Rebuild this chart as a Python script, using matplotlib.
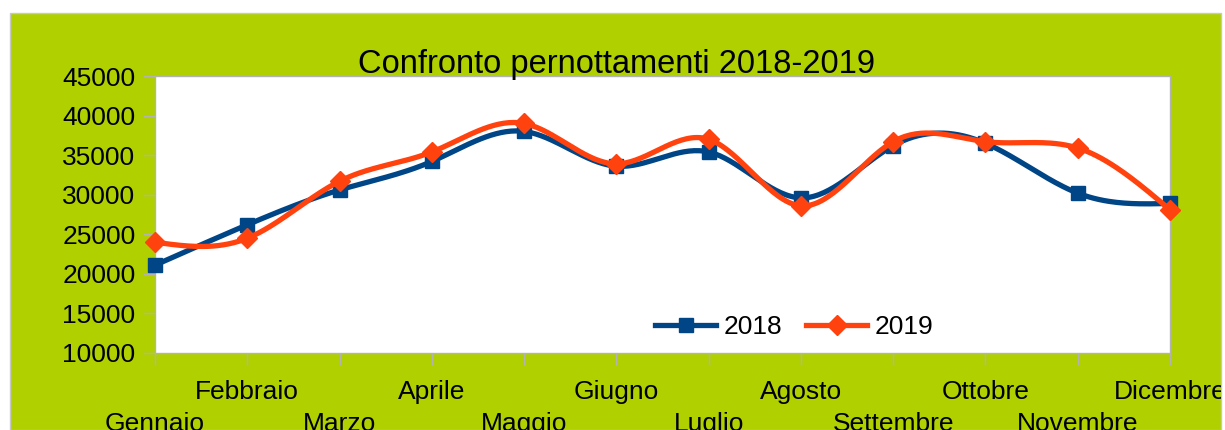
import numpy as np
import matplotlib
matplotlib.use("Agg")
import matplotlib.pyplot as plt
from matplotlib.patches import Rectangle

# dati
mesi = ["Gennaio", "Febbraio", "Marzo", "Aprile", "Maggio", "Giugno",
        "Luglio", "Agosto", "Settembre", "Ottobre", "Novembre", "Dicembre"]
pern_2018 = [21100, 26200, 30600, 34200, 38000, 33600,
             35400, 29600, 36200, 36500, 30200, 28900]
pern_2019 = [24000, 24500, 31700, 35400, 39000, 33900,
             37000, 28600, 36700, 36700, 35900, 28100]
y_ticks = [10000, 15000, 20000, 25000, 30000, 35000, 40000, 45000]

verde = "#b0d000"
blu = "#004586"
arancio = "#ff420e"
grigio = "#b3b3b3"


def spline(x, y, n=400):
    # spline cubica naturale, solo per disegnare la linea smussata
    x = np.asarray(x, float)
    y = np.asarray(y, float)
    h = np.diff(x)
    m = len(x)
    A = np.zeros((m, m))
    b = np.zeros(m)
    A[0, 0] = A[-1, -1] = 1
    for i in range(1, m - 1):
        A[i, i - 1] = h[i - 1]
        A[i, i] = 2 * (h[i - 1] + h[i])
        A[i, i + 1] = h[i]
        b[i] = 3 * ((y[i + 1] - y[i]) / h[i] - (y[i] - y[i - 1]) / h[i - 1])
    c = np.linalg.solve(A, b)
    xs = np.linspace(x[0], x[-1], n)
    idx = np.clip(np.searchsorted(x, xs) - 1, 0, m - 2)
    dx = xs - x[idx]
    hi = h[idx]
    bb = (y[idx + 1] - y[idx]) / hi - hi * (2 * c[idx] + c[idx + 1]) / 3
    dd = (c[idx + 1] - c[idx]) / (3 * hi)
    ys = y[idx] + bb * dx + c[idx] * dx ** 2 + dd * dx ** 3
    return xs, ys


plt.rcParams['font.family'] = ['Liberation Sans', 'DejaVu Sans']

fig = plt.figure(figsize=(12.25, 4.3), dpi=100)
fig.patch.set_facecolor("white")
sfondo = Rectangle((10 / 1225, 0), 1211 / 1225, 417 / 430,
                   transform=fig.transFigure, facecolor=verde,
                   edgecolor="#c8c8c8", linewidth=1, zorder=-10)
fig.patches.append(sfondo)

ax = fig.add_axes([155 / 1225, 77 / 430, 1015 / 1225, 277 / 430])
ax.set_facecolor("white")

x = np.arange(len(mesi))
xs, ys = spline(x, pern_2018)
ax.plot(xs, ys, color=blu, lw=3.8, zorder=3)
ax.plot(x, pern_2018, ls="none", marker="s", ms=10, color=blu, zorder=4, clip_on=False)
xs, ys = spline(x, pern_2019)
ax.plot(xs, ys, color=arancio, lw=3.8, zorder=5)
ax.plot(x, pern_2019, ls="none", marker="D", ms=10, color=arancio, zorder=6, clip_on=False)

# solo per la legenda
ax.plot([], [], color=blu, lw=3.8, marker="s", ms=10, label="2018")
ax.plot([], [], color=arancio, lw=3.8, marker="D", ms=10, label="2019")

ax.set_xlim(0, 11)
ax.set_ylim(10000, 45000)
ax.set_yticks(y_ticks)
ax.set_yticklabels([str(v) for v in y_ticks], fontsize=19)
ax.set_xticks(x)
ax.set_xticklabels(mesi, fontsize=19)
ax.tick_params(axis="both", direction="out", length=8.5, width=1, color=grigio)
ax.tick_params(axis="y", pad=5.5)
for i, t in enumerate(ax.xaxis.get_major_ticks()):
    t.set_pad(11 if i % 2 == 1 else 34)
    t.label1.set_clip_path(sfondo)

for s in ax.spines.values():
    s.set_color(grigio)
    s.set_linewidth(1)

ax.legend(loc="center", bbox_to_anchor=(0.63, 0.094), ncol=2, frameon=False,
          fontsize=19, handlelength=2.3, handletextpad=0.3, columnspacing=0.9)

fig.text(616 / 1225, 357 / 430, "Confronto pernottamenti 2018-2019",
         ha="center", va="baseline", fontsize=23.5)

fig.savefig("out.png", dpi=100)
